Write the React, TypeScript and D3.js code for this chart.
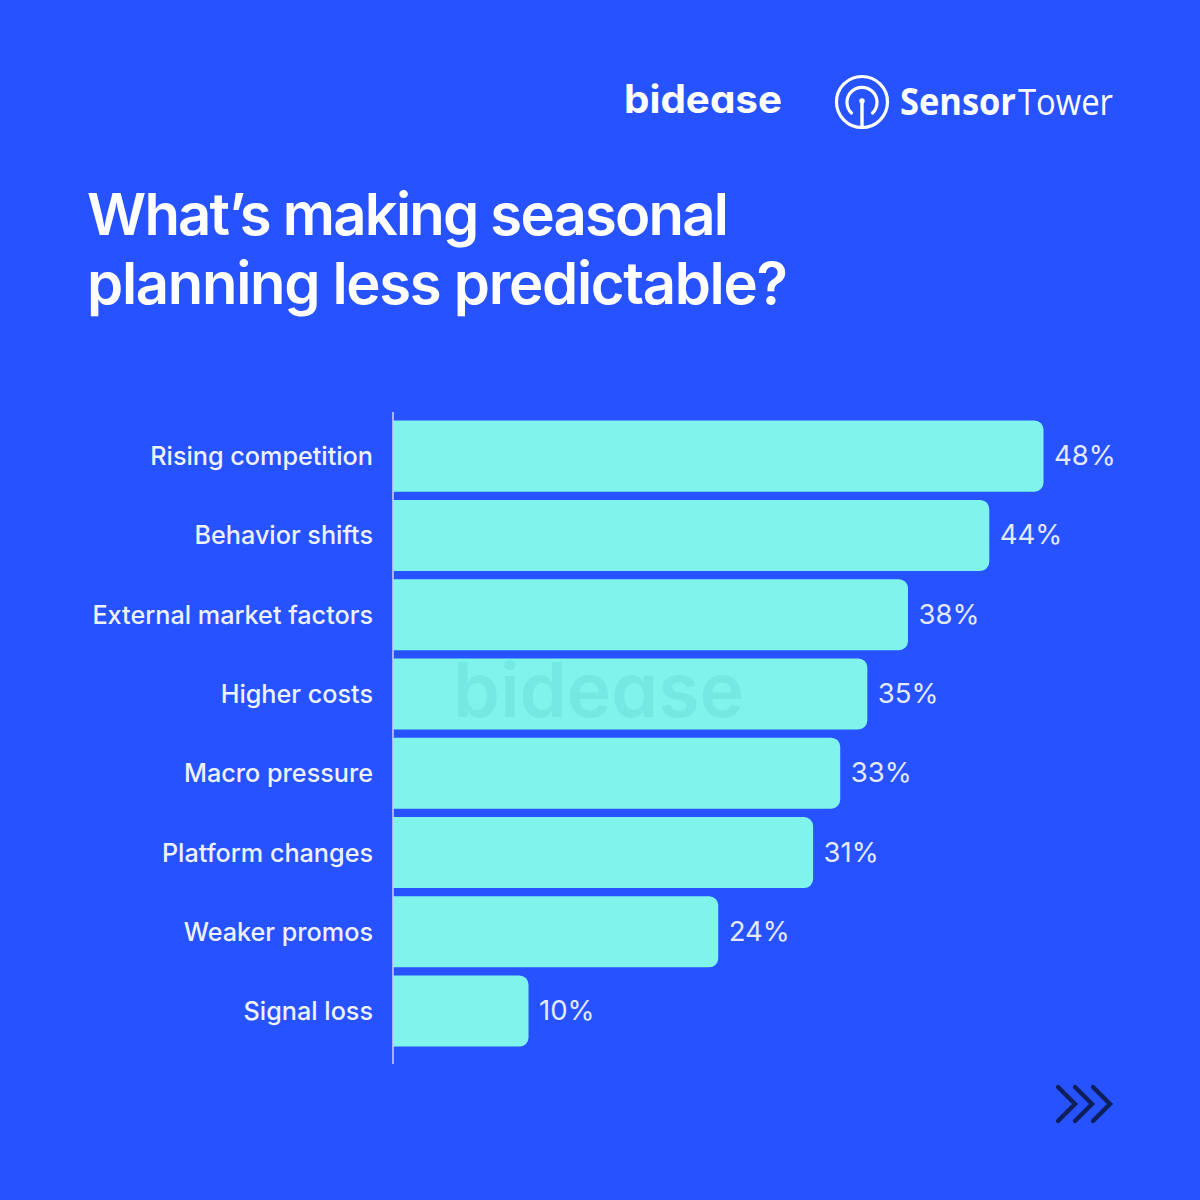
import React from 'react'
import * as d3 from 'd3'

const categories = [
  'Rising competition',
  'Behavior shifts',
  'External market factors',
  'Higher costs',
  'Macro pressure',
  'Platform changes',
  'Weaker promos',
  'Signal loss',
]
const values = [48, 44, 38, 35, 33, 31, 24, 10]
const titleLines = ['What’s making seasonal', 'planning less predictable?']

const BLUE = '#2653ff'
const BAR = '#80f4ec'
const FONT = 'Inter, sans-serif'
const TITLE_WIDTHS = [642, 701]

// rounded only on the right side
function barPath(x0: number, x1: number, y0: number, h: number, r: number) {
  const p = d3.path()
  p.moveTo(x0, y0)
  p.lineTo(x1 - r, y0)
  p.arcTo(x1, y0, x1, y0 + r, r)
  p.lineTo(x1, y0 + h - r)
  p.arcTo(x1, y0 + h, x1 - r, y0 + h, r)
  p.lineTo(x0, y0 + h)
  p.closePath()
  return p.toString()
}

export default function App() {
  const x = d3.scaleLinear().domain([0, 48]).range([393, 1043.5])
  const y = d3.scaleBand<string>().domain(categories).range([420.6, 1046.6]).paddingInner(0.104)

  return (
    <svg
      width={1200}
      height={1200}
      style={{ position: 'absolute', left: 0, top: 0, display: 'block' }}
      fontFamily={FONT}
    >
      <rect width={1200} height={1200} fill={BLUE} />

      {/* logos */}
      <text
        x={624}
        y={113}
        fontSize={39}
        fontWeight={700}
        fill="#fff"
        textLength={158}
        lengthAdjust="spacingAndGlyphs"
        style={{ fontFeatureSettings: "'cv11'" }}
      >
        bidease
      </text>
      <g fill="none" stroke="#fff" strokeLinecap="round">
        <circle cx={862} cy={102} r={25.5} strokeWidth={3.2} />
        <path d="M851.5 113 A15 15 0 1 1 872.5 113" strokeWidth={3.2} />
        <path d="M862 102 V126" strokeWidth={3.4} />
        <circle cx={862} cy={101} r={1.5} strokeWidth={2.4} />
      </g>
      <text x={900} y={115} fontFamily="'Open Sans', sans-serif" fontSize={37} fill="#fff" fontWeight={700} textLength={116} lengthAdjust="spacingAndGlyphs">
        Sensor
      </text>
      <text x={1018} y={115} fontFamily="'Open Sans', sans-serif" fontSize={37} fill="#fff" fontWeight={400} textLength={95} lengthAdjust="spacingAndGlyphs">
        Tower
      </text>

      {/* title */}
      {titleLines.map((line, i) => (
        <text
          key={line}
          x={87}
          y={235 + i * 69}
          fontSize={58}
          fontWeight={600}
          fill="#fff"
          textLength={TITLE_WIDTHS[i]}
          lengthAdjust="spacing"
        >
          {line}
        </text>
      ))}

      {/* bars */}
      {categories.map((c, i) => (
        <path key={c} d={barPath(x(0), x(values[i]), y(c)!, y.bandwidth(), 9)} fill={BAR} />
      ))}

      {/* axis line */}
      <line x1={x(0)} x2={x(0)} y1={412} y2={1064} stroke="#c3cdfb" strokeWidth={1.6} />

      {/* watermark */}
      <text
        x={453}
        y={717}
        fontSize={76}
        fontWeight={600}
        fill="#74e9e3"
        textLength={291}
        lengthAdjust="spacingAndGlyphs"
        style={{ fontFeatureSettings: "'cv11'" }}
      >
        bidease
      </text>

      {/* labels */}
      {categories.map((c, i) => {
        const cy = y(c)! + y.bandwidth() / 2
        return (
          <g key={c}>
            <text x={373} y={cy + 9} textAnchor="end" fontSize={25.2} fontWeight={500} fill="#eef1ff">
              {c}
            </text>
            <text x={x(values[i]) + 10.5} y={cy + 9} fontSize={27.5} fontWeight={400} fill="#e4e9ff">
              {values[i]}%
            </text>
          </g>
        )
      })}

      {/* arrows */}
      <g fill="none" stroke="#0f1f5c" strokeWidth={4.4} strokeLinecap="round">
        <path d="M1058 1087 L1075 1104 L1058 1121" />
        <path d="M1075 1087 L1092 1104 L1075 1121" />
        <path d="M1093 1087 L1110 1104 L1093 1121" />
      </g>
    </svg>
  )
}
